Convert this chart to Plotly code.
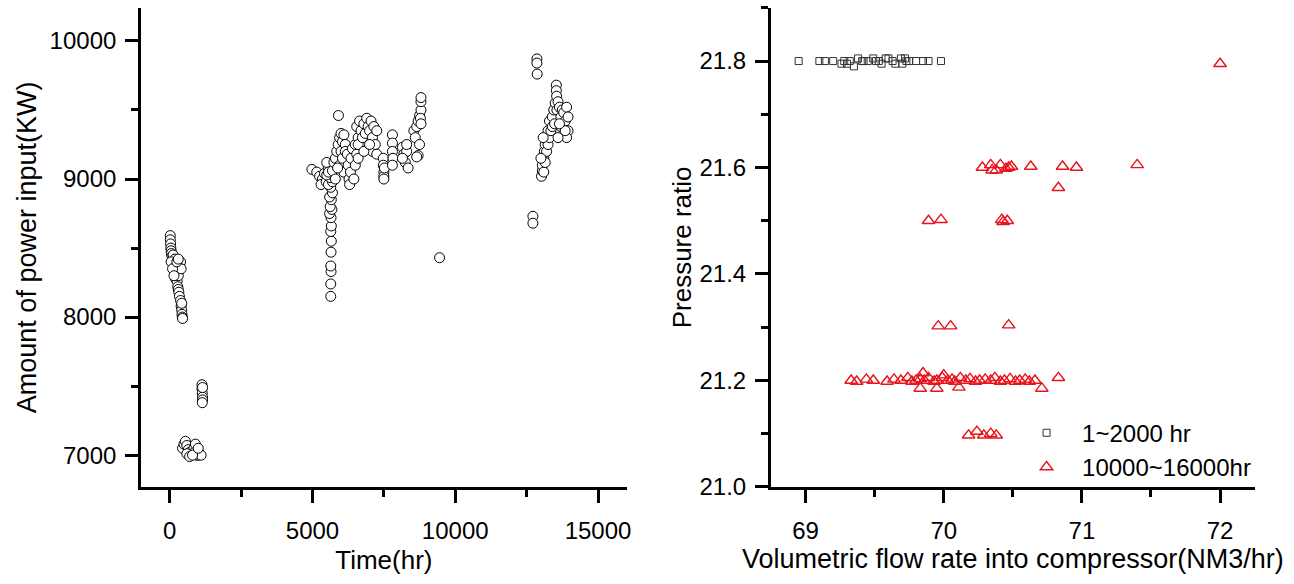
import plotly.graph_objects as go

# ---------------- Left panel data: time (hr) vs power input (KW) ----------------
time_hr = [
    # early cluster ~0-450 hr
    20, 20, 30, 40, 50, 60, 80, 100, 120, 140, 160, 180, 200, 220, 240, 200, 260, 280,
    300, 320, 340, 300, 350, 380, 400, 380, 400, 420, 430, 440, 450, 420, 50, 100, 150,
    250, 300,
    # ~7000 KW cluster
    450, 500, 550, 600, 650, 700, 750, 800, 850, 900, 950, 1000, 1050, 1100, 600, 700,
    800, 900, 1000,
    # ~7450 KW cluster
    1130, 1130, 1140, 1150, 1150, 1140, 1150,
    # 5000-5600 hr
    4980, 5150, 5250, 5350, 5300, 5420, 5480, 5550, 5500,
    # column ~5640 hr
    5640, 5640, 5650, 5640, 5650, 5660, 5640, 5660, 5650, 5600, 5680, 5620, 5660, 5600,
    5700, 5640, 5560, 5700, 5620, 5500, 5560,
    # 5700-6200 hr
    5700, 5750, 5800, 5850, 5800, 5900, 5950, 5950, 6000, 6000, 6050, 6050, 6100, 6100,
    6150, 6150, 5880, 5910,
    # 6200-6700 hr
    6220, 6250, 6280, 6300, 6330, 6350, 6400, 6450, 6500, 6500, 6550, 6600, 6600,
    # 6500-7300 hr
    6550, 6600, 6650, 6700, 6750, 6800, 6850, 6900, 6950, 7000, 7050, 7100, 7100, 7150,
    7200, 7250, 7250, 6800, 7000,
    # ~7500 hr
    7480, 7480, 7500, 7500, 7520, 7500,
    # ~7800 hr
    7800, 7800, 7800, 7820, 7800,
    # 8100-8400 hr
    8150, 8200, 8250, 8300, 8350, 8150, 8300,
    # 8500-8800 hr
    8550, 8600, 8650, 8700, 8750, 8800, 8800, 8800, 8780, 8700, 8750, 8800, 8650,
    # isolated
    9450,
    # ~12700-12900 hr
    12720, 12720, 12860, 12860, 12870,
    # 13000-14000 hr
    13020, 13050, 13050, 13100, 13100, 13120, 13150, 13150, 13200, 13200, 13250, 13250,
    13300, 13300, 13350, 13400, 13400, 13450, 13480, 13500, 13540, 13540, 13550, 13560,
    13600, 13650, 13700, 13700, 13750, 13800, 13850, 13900, 13950, 13950, 13900, 13850,
    13600, 13650, 13000, 13080,
]
power_kw = [
    8590, 8560, 8530, 8500, 8480, 8460, 8440, 8420, 8450, 8400, 8380, 8420, 8360, 8340,
    8300, 8280, 8260, 8220, 8200, 8180, 8150, 8300, 8380, 8400, 8350, 8120, 8080, 8050,
    8020, 8000, 7990, 8100, 8400, 8350, 8300, 8400, 8420,
    7050, 7080, 7100, 7070, 7040, 7020, 7000, 7020, 7050, 7030, 7000, 7000, 7010, 7000,
    7010, 6990, 7000, 7080, 7050,
    7510, 7480, 7450, 7420, 7400, 7380, 7490,
    9070, 9050, 9020, 9000, 8960, 9040, 8980, 9080, 9120,
    8150, 8240, 8330, 8370, 8470, 8550, 8620, 8660, 8720, 8750, 8780, 8800, 8850, 8870,
    8900, 8940, 8960, 8980, 9010, 9030, 9050,
    9060, 9120, 9150, 9200, 9000, 9250, 9100, 9300, 9200, 9330, 9270, 9150, 9320, 9050,
    9250, 9200, 9080, 9460,
    9180, 9100, 9000, 8960, 9050, 9150, 9220, 9000, 9100, 9250, 9180, 9300, 9150,
    9380, 9250, 9420, 9350, 9300, 9400, 9330, 9440, 9380, 9350, 9420, 9300, 9200, 9380,
    9250, 9350, 9180, 9200, 9250,
    9150, 9100, 9050, 9020, 9080, 9000,
    9320, 9260, 9200, 9150, 9100,
    9230, 9180, 9120, 9200, 9080, 9150, 9250,
    9350, 9300, 9380, 9420, 9460, 9500, 9560, 9590, 9440, 9170, 9250, 9400, 9160,
    8430,
    8730, 8680, 9870, 9840, 9760,
    9020, 9060, 9100, 9150, 9050, 9200, 9250, 9120, 9300, 9200, 9350, 9250, 9300, 9420,
    9350, 9450, 9380, 9500, 9400, 9550, 9680, 9640, 9600, 9500, 9560, 9520, 9450, 9380,
    9500, 9480, 9420, 9520, 9450, 9350, 9300, 9350, 9300, 9400, 9150, 9300,
]

# ---------------- Right panel data: flow rate vs pressure ratio ----------------
flow_early = [68.95, 69.10, 69.14, 69.20, 69.26, 69.28, 69.32, 69.38, 69.41, 69.45, 69.49,
              69.51, 69.53, 69.58, 69.63, 69.65, 69.69, 69.73, 69.75, 69.80, 69.85, 69.89,
              69.98, 69.30, 69.35, 69.42, 69.55, 69.60, 69.70, 69.72]
pr_early = [21.800, 21.800, 21.800, 21.800, 21.795, 21.800, 21.800, 21.805, 21.800, 21.800,
            21.805, 21.800, 21.800, 21.805, 21.800, 21.795, 21.805, 21.800, 21.800, 21.800,
            21.800, 21.800, 21.800, 21.795, 21.790, 21.800, 21.795, 21.805, 21.795, 21.805]

flow_late = [
    # ~21.8
    72.00,
    # ~21.6
    70.28, 70.34, 70.38, 70.41, 70.47, 70.49, 70.63, 70.86, 70.96, 71.40, 70.35, 70.45,
    70.83,
    # ~21.5
    69.89, 69.98, 70.42, 70.46, 70.43,
    # ~21.3
    69.96, 70.05, 70.47,
    # ~21.2
    69.33, 69.37, 69.44, 69.49, 69.59, 69.64, 69.69, 69.74, 69.77, 69.80, 69.83, 69.86,
    69.89, 69.93, 69.95, 69.99, 70.03, 70.06, 70.08, 70.12, 70.16, 70.19, 70.23, 70.26,
    70.30, 70.34, 70.37, 70.41, 70.44, 70.48, 70.52, 70.55, 70.59, 70.62, 70.66, 70.71,
    70.83, 69.83, 69.95, 70.11, 69.85, 70.00,
    # ~21.1
    70.18, 70.24, 70.29, 70.34, 70.38,
]
pr_late = [
    21.795,
    21.600, 21.605, 21.595, 21.605, 21.600, 21.602, 21.602, 21.602, 21.600, 21.605, 21.595,
    21.598, 21.562,
    21.500, 21.502, 21.502, 21.500, 21.498,
    21.302, 21.302, 21.304,
    21.200, 21.198, 21.202, 21.200, 21.198, 21.202, 21.200, 21.205, 21.198, 21.200, 21.203,
    21.200, 21.205, 21.198, 21.200, 21.205, 21.200, 21.202, 21.198, 21.205, 21.200, 21.203,
    21.198, 21.200, 21.202, 21.200, 21.205, 21.198, 21.200, 21.203, 21.198, 21.200, 21.202,
    21.198, 21.200, 21.185, 21.205, 21.185, 21.185, 21.187, 21.214, 21.210,
    21.097, 21.104, 21.097, 21.100, 21.097,
]

# tick labels
x1_ticks = [0, 5000, 10000, 15000]
x1_labels = ["0", "5000", "10000", "15000"]
y1_ticks = [7000, 8000, 9000, 10000]
y1_labels = ["7000", "8000", "9000", "10000"]
x2_ticks = [69, 70, 71, 72]
x2_labels = ["69", "70", "71", "72"]
y2_ticks = [21.0, 21.2, 21.4, 21.6, 21.8]
y2_labels = ["21.0", "21.2", "21.4", "21.6", "21.8"]

FONT = "Arial, Liberation Sans, sans-serif"
fig = go.Figure()

fig.add_trace(go.Scatter(
    x=time_hr, y=power_kw, mode="markers", showlegend=False,
    marker=dict(symbol="circle", size=10, color="white",
                line=dict(color="black", width=1)),
    xaxis="x", yaxis="y"))

fig.add_trace(go.Scatter(
    x=flow_early, y=pr_early, mode="markers", name="1~2000 hr",
    marker=dict(symbol="square-open", size=7, color="#333333",
                line=dict(width=1)),
    xaxis="x2", yaxis="y2"))

fig.add_trace(go.Scatter(
    x=flow_late, y=pr_late, mode="markers", name="10000~16000hr",
    marker=dict(symbol="triangle-up-open", size=11, color="#e8141c",
                line=dict(width=1.4)),
    xaxis="x2", yaxis="y2"))

ydom = [86 / 584, 576 / 584]
common = dict(showline=True, linewidth=3, linecolor="black", showgrid=False,
              zeroline=False, ticks="outside", ticklen=13, tickwidth=3,
              tickcolor="black", mirror=False,
              tickfont=dict(family=FONT, size=24, color="black"))
minor = dict(ticks="outside", ticklen=7, tickwidth=3, tickcolor="black")

fig.update_layout(
    width=1294, height=584,
    margin=dict(l=0, r=0, t=0, b=0),
    paper_bgcolor="white", plot_bgcolor="white",
    font=dict(family=FONT, color="black"),
    xaxis=dict(domain=[141.7 / 1294, 629 / 1294], range=[-1000, 16000],
               tickmode="array", tickvals=x1_ticks, ticktext=x1_labels, anchor="y",
               minor=dict(tickvals=[2500, 7500, 12500], **minor),
               title=dict(text="Time(hr)", font=dict(family=FONT, size=26), standoff=9),
               ticklabelstandoff=7, **common),
    yaxis=dict(domain=ydom, range=[6770, 10240],
               tickmode="array", tickvals=y1_ticks, ticktext=y1_labels, anchor="x",
               minor=dict(tickvals=[7500, 8500, 9500], **minor),
               title=dict(text="Amount of power input(KW)",
                          font=dict(family=FONT, size=27), standoff=6),
               ticklabelstandoff=4, **common),
    xaxis2=dict(domain=[774 / 1294, 1259.5 / 1294], range=[68.75, 72.25],
                tickmode="array", tickvals=x2_ticks, ticktext=x2_labels, anchor="y2",
                minor=dict(tickvals=[69.5, 70.5, 71.5], **minor),
                title=dict(text="Volumetric flow rate into compressor(NM3/hr)",
                           font=dict(family=FONT, size=27), standoff=7),
                ticklabelstandoff=7, **common),
    yaxis2=dict(domain=ydom, range=[21.0, 21.9],
                tickmode="array", tickvals=y2_ticks, ticktext=y2_labels, anchor="x2",
                minor=dict(tickvals=[21.1, 21.3, 21.5, 21.7, 21.9], **minor),
                title=dict(text="Pressure ratio", font=dict(family=FONT, size=26),
                           standoff=1),
                ticklabelstandoff=4, **common),
    legend=dict(x=1015 / 1294, y=1 - 420 / 584, xanchor="left", yanchor="top",
                bgcolor="rgba(0,0,0,0)", font=dict(family=FONT, size=24),
                itemwidth=61, tracegroupgap=0),
)

fig.write_html("out.html")
